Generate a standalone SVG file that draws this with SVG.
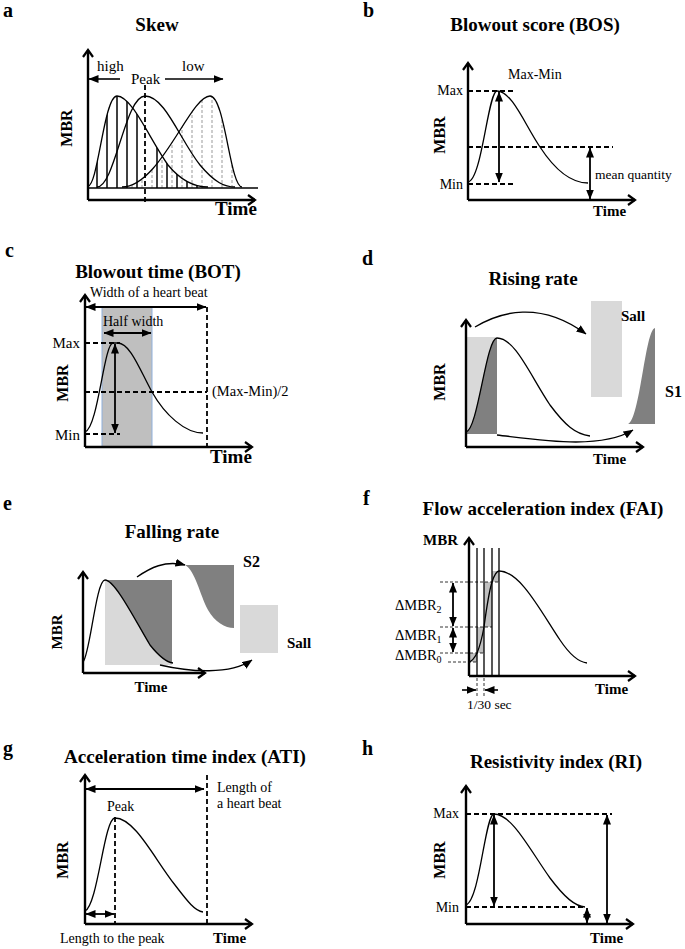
<svg xmlns="http://www.w3.org/2000/svg" width="685" height="949" viewBox="0 0 685 949">
<style>
text{font-family:"Liberation Serif","Times New Roman",serif;fill:#000}
.lt{font-size:20px;font-weight:bold}
.ti{font-size:19px;font-weight:bold}
.ax{font-size:15px;font-weight:bold}
.axl{font-size:16px;font-weight:bold}
.lb{font-size:14px}
.axis{stroke:#000;stroke-width:2.4;fill:none;marker-end:url(#chev)}
.crv{stroke:#000;stroke-width:1.3;fill:none}
.dsh{stroke:#000;stroke-width:1.8;stroke-dasharray:5 3;fill:none}
.thd{stroke:#000;stroke-width:0.8;stroke-dasharray:3 2;fill:none}
.dbl{stroke:#000;stroke-width:1.8;fill:none;marker-start:url(#ah);marker-end:url(#ah)}
.one{stroke:#000;stroke-width:1.6;fill:none;marker-end:url(#ah)}
.cv{stroke:#000;stroke-width:1.4;fill:none;marker-end:url(#ah)}
.lg{fill:#d9d9d9}
.dg{fill:#808080}
</style>
<defs>
<marker id="chev" markerUnits="userSpaceOnUse" markerWidth="12" markerHeight="12" viewBox="0 0 12 12" refX="10" refY="6" orient="auto">
<path d="M3,1 L10,6 L3,11" fill="none" stroke="#000" stroke-width="2.2"/>
</marker>
<marker id="ah" markerUnits="userSpaceOnUse" markerWidth="10" markerHeight="8" viewBox="0 0 10 8" refX="9.5" refY="4" orient="auto-start-reverse">
<path d="M0,0 L10,4 L0,8 z" fill="#000"/>
</marker>
<clipPath id="c1"><path d="M88,188 L88,186 C98,186 104,96 117,96 C132,96 150,140 168,165 C182,182 195,187 208,187 L208,188 Z"/></clipPath>
<clipPath id="c3"><path d="M122,188 L122,187 C160,187 190,96 210,96 C225,96 230,187 242,187 L242,188 Z"/></clipPath>
</defs>

<!-- Panel a -->
<g id="panel-a">
<text class="lt" x="3" y="17">a</text>
<text class="ti" x="157" y="31" text-anchor="middle">Skew</text>
<g clip-path="url(#c3)" stroke="#aaa" stroke-width="1.2" stroke-dasharray="3 2">
<path d="M132,188V90M142,188V90M152,188V90M162,188V90M172,188V90M182,188V90M192,188V90M202,188V90M212,188V90M222,188V90M232,188V90"/>
</g>
<g clip-path="url(#c1)" stroke="#000" stroke-width="1.5">
<path d="M97,188V90M107,188V90M117,188V90M127,188V90M137,188V90M157,188V90M167,188V90M177,188V90M187,188V90M197,188V90"/>
</g>
<path class="crv" d="M88,186 C98,186 104,96 117,96 C132,96 150,140 168,165 C182,182 195,187 208,187"/>
<path class="crv" d="M97,187 C115,187 125,96 145,96 C165,96 180,140 200,165 C215,183 225,187 235,187"/>
<path class="crv" d="M122,187 C160,187 190,96 210,96 C225,96 230,187 242,187"/>
<line x1="88" y1="188" x2="258" y2="188" stroke="#000" stroke-width="1.3"/>
<line class="dsh" x1="145" y1="85" x2="145" y2="203" stroke-width="2.2"/>
<path class="axis" d="M88,200 V50"/>
<path class="axis" d="M88,200 H255"/>
<line class="one" x1="120" y1="79" x2="89" y2="79"/>
<line class="one" x1="165" y1="79" x2="223" y2="79"/>
<text x="97" y="71" style="font-size:15px">high</text>
<text x="131" y="84" style="font-size:15px">Peak</text>
<text x="182" y="71" style="font-size:15px">low</text>
<text class="axl" x="72" y="128" text-anchor="middle" transform="rotate(-90 72 128)">MBR</text>
<text class="ti" x="215" y="215">Time</text>
</g>

<!-- Panel b -->
<g id="panel-b">
<text class="lt" x="363" y="17">b</text>
<text class="ti" x="535" y="31" text-anchor="middle">Blowout score (BOS)</text>
<line class="dsh" x1="468" y1="91" x2="513" y2="91"/>
<line class="dsh" x1="468" y1="184" x2="513" y2="184"/>
<line class="dsh" x1="468" y1="147" x2="613" y2="147"/>
<path class="crv" d="M468,182 C482,180 488,91 497,91 C512,91 525,125 540,147 C555,170 570,183 588,183"/>
<line class="dbl" x1="499" y1="92" x2="499" y2="182"/>
<line class="dbl" x1="590" y1="148" x2="590" y2="199"/>
<path class="axis" d="M468,200 V63"/>
<path class="axis" d="M468,200 H635"/>
<text class="lb" x="463" y="95" text-anchor="end">Max</text>
<text class="lb" x="463" y="189" text-anchor="end">Min</text>
<text class="lb" x="508" y="79">Max-Min</text>
<text style="font-size:13.5px" x="595" y="179">mean quantity</text>
<text class="axl" x="445" y="135" text-anchor="middle" transform="rotate(-90 445 135)">MBR</text>
<text class="ax" x="593" y="216">Time</text>
</g>

<!-- Panel c -->
<g id="panel-c">
<text class="lt" x="5" y="257">c</text>
<text class="ti" x="158" y="278" text-anchor="middle">Blowout time (BOT)</text>
<rect x="102" y="307" width="50" height="140" fill="#bfbfbf"/>
<line x1="102" y1="307" x2="102" y2="447" stroke="#8fb0dc" stroke-width="1"/>
<line x1="152" y1="307" x2="152" y2="447" stroke="#8fb0dc" stroke-width="1"/>
<line class="dsh" x1="207" y1="307" x2="207" y2="447"/>
<line class="dsh" x1="85" y1="343" x2="120" y2="343"/>
<line class="dsh" x1="85" y1="434" x2="120" y2="434"/>
<line class="dsh" x1="85" y1="392" x2="207" y2="392"/>
<path class="crv" d="M85,432 C98,428 104,343 113,343 L118,343 C130,343 140,370 152,392 C165,415 185,433 203,433"/>
<line class="dbl" x1="86" y1="307" x2="206" y2="307"/>
<line class="dbl" x1="104" y1="333" x2="151" y2="333"/>
<line class="dbl" x1="115" y1="344" x2="115" y2="433"/>
<path class="axis" d="M85,447 V295"/>
<path class="axis" d="M85,447 H252"/>
<text class="lb" x="90" y="297">Width of a heart beat</text>
<text class="lb" x="103" y="326">Half width</text>
<text style="font-size:15px" x="80" y="348" text-anchor="end">Max</text>
<text style="font-size:15px" x="80" y="440" text-anchor="end">Min</text>
<text style="font-size:14.5px" x="212" y="396">(Max-Min)/2</text>
<text class="axl" x="68" y="383" text-anchor="middle" transform="rotate(-90 68 383)">MBR</text>
<text class="ti" x="210" y="463">Time</text>
</g>

<!-- Panel d -->
<g id="panel-d">
<text class="lt" x="362" y="265">d</text>
<text class="ti" x="533" y="285" text-anchor="middle">Rising rate</text>
<rect class="lg" x="466" y="337" width="31" height="97"/>
<path class="dg" d="M466,434 L466,432 C478,430 486,338 497,338 L497,434 Z"/>
<path class="crv" d="M466,432 C478,430 486,338 497,338 C515,338 530,375 550,405 C565,425 575,434 590,436"/>
<rect class="lg" x="591" y="301" width="31" height="96"/>
<path class="dg" d="M628,424 C640,420 645,330 655,328 L655,424 Z"/>
<path class="cv" d="M475,327 C500,312 540,300 586,334"/>
<path class="cv" d="M497,435 C540,440 600,450 633,430"/>
<path class="axis" d="M466,447 V320"/>
<path class="axis" d="M466,447 H643"/>
<text class="ax" x="621" y="321">Sall</text>
<text style="font-size:16px;font-weight:bold" x="665" y="397">S1</text>
<text class="axl" x="445" y="382" text-anchor="middle" transform="rotate(-90 445 382)">MBR</text>
<text class="ax" x="593" y="464">Time</text>
</g>

<!-- Panel e -->
<g id="panel-e">
<text class="lt" x="3" y="510">e</text>
<text class="ti" x="172" y="538" text-anchor="middle">Falling rate</text>
<rect class="lg" x="105" y="580" width="67" height="85"/>
<path class="dg" d="M105,580 C115,580 135,620 150,645 C158,655 165,662 172,663 L172,580 Z"/>
<path class="crv" d="M83,662 C90,655 96,580 105,580 C115,580 135,620 150,645 C158,655 165,662 173,663"/>
<path class="dg" d="M185,565 C195,570 200,595 208,610 C215,622 225,628 234,628 L234,565 Z"/>
<rect class="lg" x="240" y="605" width="38" height="48"/>
<path class="cv" d="M137,577 C150,568 165,560 185,565"/>
<path class="cv" d="M160,665 C190,672 230,675 252,660"/>
<path class="axis" d="M83,673 V572"/>
<path class="axis" d="M83,673 H205"/>
<text style="font-size:16px;font-weight:bold" x="243" y="567">S2</text>
<text class="ax" x="287" y="648">Sall</text>
<text class="ax" x="62" y="632" text-anchor="middle" transform="rotate(-90 62 632)">MBR</text>
<text class="ax" x="151" y="692" text-anchor="middle">Time</text>
</g>

<!-- Panel f -->
<g id="panel-f">
<text class="lt" x="363" y="505">f</text>
<text class="ti" x="543" y="515" text-anchor="middle">Flow acceleration index (FAI)</text>
<rect x="469" y="653" width="8" height="9" fill="#c0c0c0"/>
<rect x="477" y="627" width="7" height="26" fill="#c0c0c0"/>
<rect x="484" y="582" width="8" height="45" fill="#c0c0c0"/>
<rect x="492" y="571" width="7" height="11" fill="#c0c0c0"/>
<line class="thd" x1="440" y1="582" x2="499" y2="582"/>
<line class="thd" x1="440" y1="627" x2="492" y2="627"/>
<line class="thd" x1="440" y1="653" x2="484" y2="653"/>
<line class="thd" x1="448" y1="662" x2="477" y2="662"/>
<path stroke="#000" stroke-width="1.3" d="M477,548V676M484,548V676M492,548V676M499,548V676"/>
<path class="crv" d="M469,662 C473,661 475,657 477,653 C480,646 482,638 484,627 C486,612 489,592 492,582 C494,576 496,571 499,571 C520,571 540,610 560,640 C570,655 578,662 587,663"/>
<line class="dbl" x1="453" y1="583" x2="453" y2="626"/>
<line class="dbl" x1="453" y1="628" x2="453" y2="652"/>
<path class="axis" d="M469,676 V538"/>
<path class="axis" d="M469,676 H635"/>
<line class="thd" x1="477" y1="678" x2="477" y2="697"/>
<line class="thd" x1="484" y1="678" x2="484" y2="697"/>
<line class="one" x1="462" y1="690" x2="476" y2="690"/>
<line class="one" x1="498" y1="690" x2="485" y2="690"/>
<text style="font-size:14.5px" x="395" y="610">ΔMBR<tspan style="font-size:10px" dy="3">2</tspan></text>
<text style="font-size:14.5px" x="395" y="640">ΔMBR<tspan style="font-size:10px" dy="3">1</tspan></text>
<text style="font-size:14.5px" x="395" y="660">ΔMBR<tspan style="font-size:10px" dy="3">0</tspan></text>
<text style="font-size:13.5px" x="467" y="709">1/30 sec</text>
<text class="ax" x="423" y="545">MBR</text>
<text class="ax" x="595" y="694">Time</text>
</g>

<!-- Panel g -->
<g id="panel-g">
<text class="lt" x="3" y="755">g</text>
<text class="ti" x="185" y="763" text-anchor="middle">Acceleration time index (ATI)</text>
<line class="dsh" x1="207" y1="775" x2="207" y2="924"/>
<line class="dsh" x1="115" y1="817" x2="115" y2="924"/>
<path class="crv" d="M85,911 C98,905 104,818 115,818 C135,818 155,860 175,885 C188,902 195,911 203,912"/>
<line class="dbl" x1="86" y1="789" x2="204" y2="789"/>
<line class="dbl" x1="86" y1="914" x2="114" y2="914"/>
<path class="axis" d="M85,924 V775"/>
<path class="axis" d="M85,924 H252"/>
<text class="lb" x="217" y="792">Length of</text>
<text class="lb" x="217" y="808">a heart beat</text>
<text class="lb" x="107" y="811">Peak</text>
<text class="lb" x="60" y="943">Length to the peak</text>
<text class="axl" x="68" y="860" text-anchor="middle" transform="rotate(-90 68 860)">MBR</text>
<text class="ax" x="213" y="943">Time</text>
</g>

<!-- Panel h -->
<g id="panel-h">
<text class="lt" x="362" y="755">h</text>
<text class="ti" x="556" y="768" text-anchor="middle">Resistivity index (RI)</text>
<line class="dsh" x1="466" y1="814" x2="612" y2="814"/>
<line class="dsh" x1="466" y1="907" x2="585" y2="907"/>
<path class="crv" d="M466,905 C480,900 485,814 494,814 C512,814 530,850 550,878 C565,898 575,906 585,907"/>
<line class="dbl" x1="494" y1="815" x2="494" y2="906"/>
<line class="dbl" x1="587" y1="908" x2="587" y2="923"/>
<line class="dbl" x1="607" y1="815" x2="607" y2="923"/>
<path class="axis" d="M466,924 V786"/>
<path class="axis" d="M466,924 H633"/>
<text class="lb" x="459" y="818" text-anchor="end">Max</text>
<text class="lb" x="459" y="912" text-anchor="end">Min</text>
<text class="axl" x="445" y="860" text-anchor="middle" transform="rotate(-90 445 860)">MBR</text>
<text class="ax" x="590" y="943">Time</text>
</g>
</svg>
